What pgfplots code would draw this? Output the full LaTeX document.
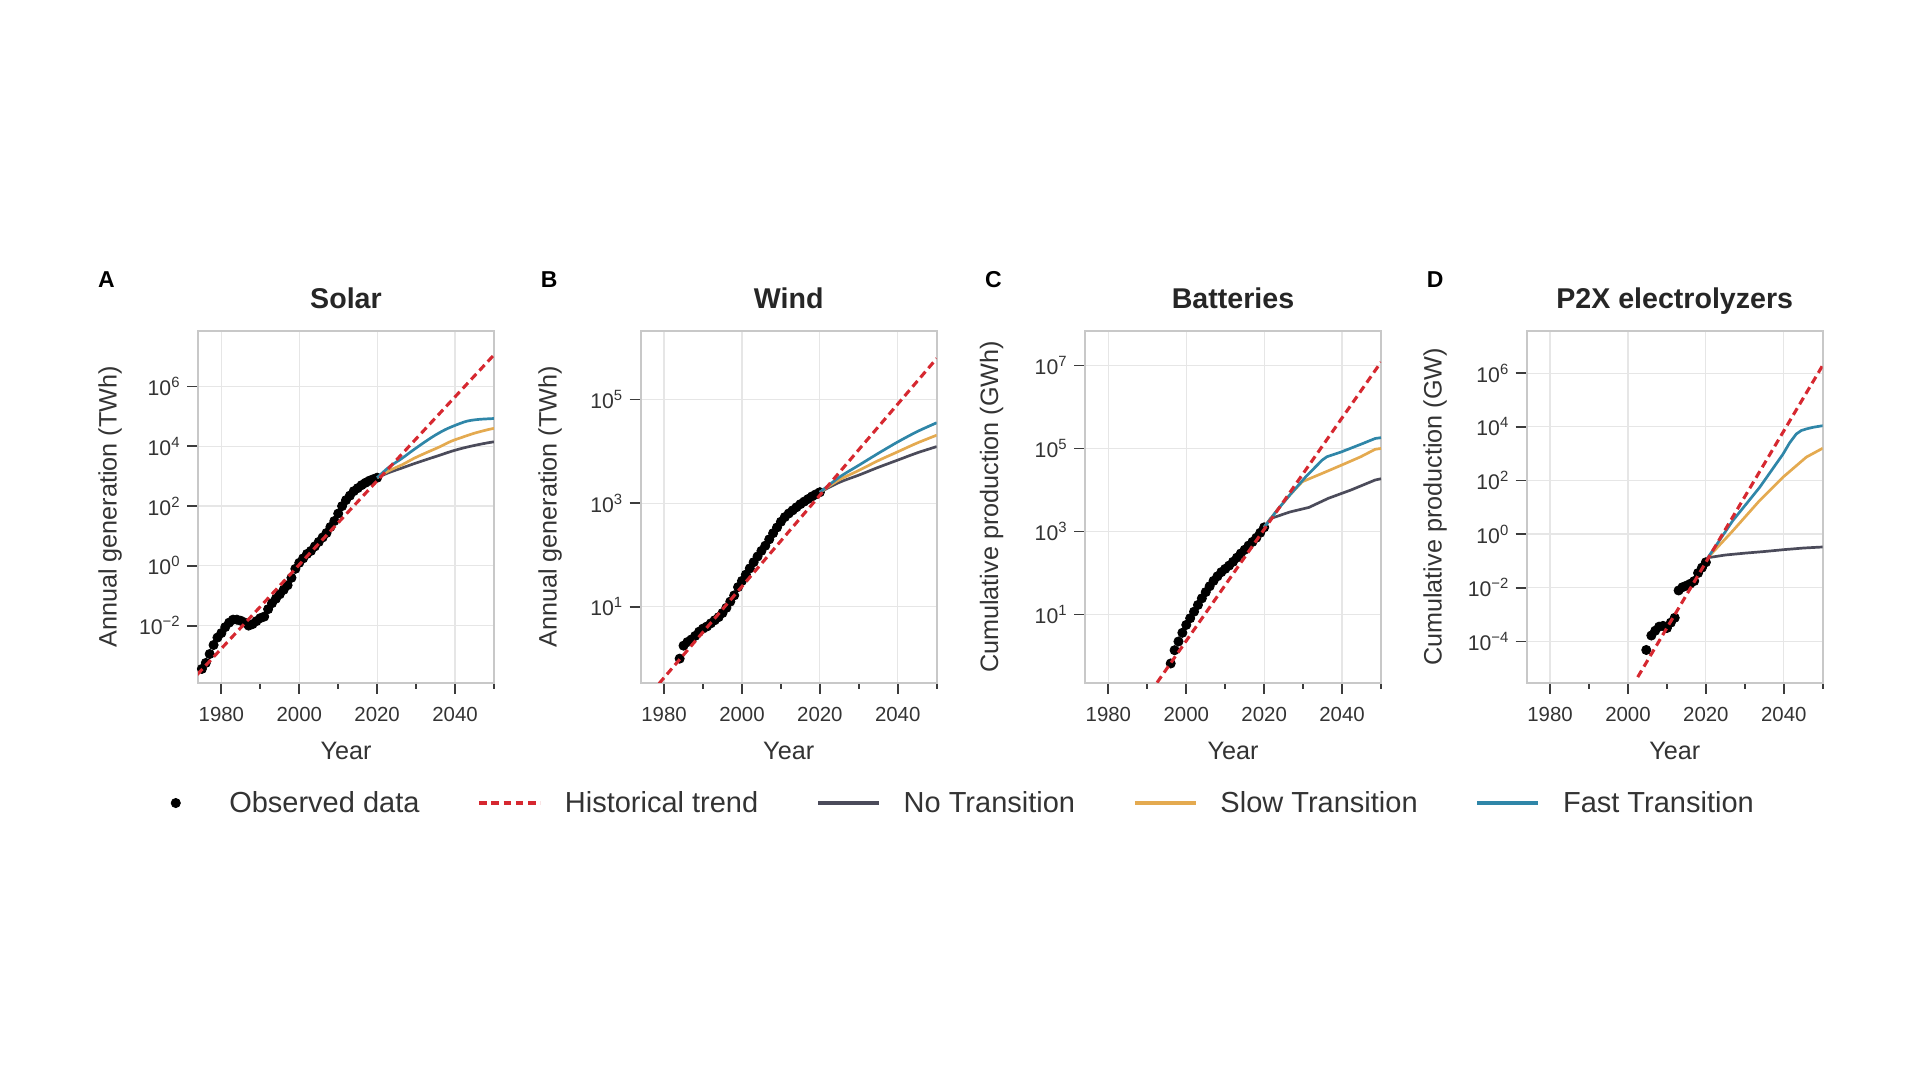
\documentclass[border=0pt]{standalone}
\usepackage{fontspec}
\setmainfont{Liberation Sans}
\usepackage{pgfplots}
\pgfplotsset{compat=1.18}
\definecolor{cRed}{RGB}{214,40,48}
\definecolor{cBlue}{RGB}{47,134,168}
\definecolor{cOrange}{RGB}{228,170,80}
\definecolor{cDark}{RGB}{75,75,90}
\definecolor{framegray}{RGB}{200,200,200}
\definecolor{gridgray}{RGB}{230,230,230}
\definecolor{tickgray}{RGB}{60,60,60}
\definecolor{labelgray}{RGB}{51,51,51}
\definecolor{titlegray}{RGB}{38,38,38}
\pgfplotsset{
  chartpanel/.style={
    scale only axis, width=148pt, height=176pt,
    xmin=1974, xmax=2050,
    xtick={1980,2000,2020,2040}, xticklabels={1980,2000,2020,2040},
    minor xtick={1990,2010,2030,2050},
    yminorticks=false,
    tick align=outside, xtick pos=bottom, ytick pos=left,
    major tick length=5.5pt, minor tick length=2.8pt,
    tick style={line width=0.9pt, draw=tickgray},
    axis line style={draw=framegray, line width=0.8pt},
    grid=major, major grid style={draw=gridgray, line width=0.6pt},
    xticklabel style={font=\fontsize{10.2}{12}\selectfont, text=labelgray},
    yticklabel style={font=\fontsize{10.6}{12}\selectfont, text=labelgray},
    xticklabel shift=3pt, yticklabel shift=-0.3pt,
    xlabel={Year},
    xlabel style={font=\fontsize{12.6}{15}\selectfont, text=labelgray, at={(axis description cs:0.5,0)}, anchor=base, yshift=-38.5pt},
    ylabel style={font=\fontsize{12.6}{15}\selectfont, text=labelgray, anchor=base},
    title style={font=\bfseries\fontsize{14.3}{17}\selectfont, text=titlegray, at={(axis description cs:0.5,1)}, anchor=base, yshift=5pt},
    clip mode=individual,
  },
}
\tikzset{
  obsmk/.style={only marks, mark=*, mark size=2.3pt, draw=black, fill=black},
  trendln/.style={cRed, line width=1.55pt, dash pattern=on 3.8pt off 2.3pt},
  noln/.style={cDark, line width=1.35pt},
  slowln/.style={cOrange, line width=1.35pt},
  fastln/.style={cBlue, line width=1.35pt},
  panelletter/.style={anchor=base west, xshift=-53.5pt, yshift=21.5pt, font=\bfseries\fontsize{11.5}{13}\selectfont, text=black},
}
\begin{document}
\begin{tikzpicture}
\path[use as bounding box] (0,0) rectangle (960pt,540pt);
% ---------------- A Solar
\begin{axis}[chartpanel, ymode=log, at={(99pt,198.5pt)}, anchor=south west,
  title={Solar}, ylabel={Annual generation (TWh)},
  ylabel style={at={(axis description cs:-0.2753,0.5)}},
  ymin=1.2e-4, ymax=7.24e7,
  ytick={1e-2,1,1e2,1e4,1e6},
  yticklabels={10\textsuperscript{−2},10\textsuperscript{0},10\textsuperscript{2},10\textsuperscript{4},10\textsuperscript{6}},
  legend columns=5,
  legend style={at={(axis description cs:2.539,-0.341)}, anchor=center, draw=none, fill=none,
    font=\fontsize{14.5}{17}\selectfont, text=labelgray,
    nodes={inner sep=0pt},
    /tikz/every odd column/.append style={column sep=11.5pt},
    /tikz/every even column/.append style={column sep=29pt}},
  legend image code/.code={\draw[#1] (0pt,0pt) -- (30.5pt,0pt);},
]
\addlegendimage{black, legend image code/.code={\path[draw=none] (0pt,0pt) -- (30.5pt,0pt); \fill[black] (15.25pt,0pt) circle (2.3pt);}}
\addlegendentry{Observed data}
\addlegendimage{cRed, line width=1.7pt, dash pattern=on 3.8pt off 2.3pt}
\addlegendentry{Historical trend}
\addlegendimage{cDark, line width=1.7pt}
\addlegendentry{No Transition}
\addlegendimage{cOrange, line width=1.7pt}
\addlegendentry{Slow Transition}
\addlegendimage{cBlue, line width=1.7pt}
\addlegendentry{Fast Transition}
\addplot[obsmk, forget plot] coordinates {
(1975,3.55e-4) (1976,5.62e-4) (1977,1.12e-3) (1978,2.24e-3) (1979,3.98e-3) (1980,5.62e-3)
(1981,8.91e-3) (1982,1.26e-2) (1983,1.58e-2) (1984,1.58e-2) (1985,1.45e-2) (1986,1.26e-2)
(1987,1.0e-2) (1988,1.12e-2) (1989,1.41e-2) (1990,1.78e-2) (1991,2.0e-2) (1992,3.55e-2)
(1993,5.62e-2) (1994,7.94e-2) (1995,0.112) (1996,0.158) (1997,0.224) (1998,0.398)
(1999,0.794) (2000,1.26) (2001,1.78) (2002,2.51) (2003,3.16) (2004,4.47) (2005,6.31)
(2006,8.91) (2007,12.6) (2008,20.0) (2009,31.6) (2010,56.2) (2011,100) (2012,158)
(2013,224) (2014,316) (2015,398) (2016,501) (2017,603) (2018,708) (2019,794) (2020,891)};
\addplot[noln, smooth, forget plot] coordinates {(2020,891) (2023,1318) (2026.5,1905) (2029.5,2630) (2032.5,3548) (2036,5012) (2039,6761) (2042,8710) (2045,10715) (2048.5,13183) (2050,14125)};
\addplot[slowln, smooth, forget plot] coordinates {(2020,891) (2023,1514) (2026.5,2455) (2029.5,3981) (2032.5,6026) (2036,9550) (2039,14791) (2042,20417) (2045,27542) (2048.5,36308) (2050,39811)};
\addplot[fastln, smooth, forget plot] coordinates {(2020,891) (2023,1995) (2026.5,4074) (2029,7079) (2032.5,14791) (2035,23988) (2037.5,36308) (2040,50119) (2043,69183) (2046,79433) (2050,85114)};
\addplot[trendln, forget plot] coordinates {(1973.8,2.29e-4) (2050,1.15e7)};
\node[panelletter] at (rel axis cs:0,1) {A};
\end{axis}
% ---------------- B Wind
\begin{axis}[chartpanel, ymode=log, at={(320.35pt,198.5pt)}, anchor=south west,
  title={Wind}, ylabel={Annual generation (TWh)},
  ylabel style={at={(axis description cs:-0.2838,0.5)}},
  ymin=0.339, ymax=2.09e6,
  ytick={10,1e3,1e5},
  yticklabels={10\textsuperscript{1},10\textsuperscript{3},10\textsuperscript{5}},
]
\addplot[obsmk] coordinates {
(1984,1.0) (1985,1.78) (1986,2.09) (1987,2.34) (1988,2.75) (1989,3.31) (1990,3.80)
(1991,4.17) (1992,4.79) (1993,5.50) (1994,6.31) (1995,7.59) (1996,9.55) (1997,12.6)
(1998,16.6) (1999,24.0) (2000,31.6) (2001,41.7) (2002,55.0) (2003,72.4) (2004,93.3)
(2005,120) (2006,151) (2007,200) (2008,263) (2009,339) (2010,437) (2011,537) (2012,631)
(2013,724) (2014,832) (2015,955) (2016,1072) (2017,1202) (2018,1349) (2019,1479) (2020,1622)};
\addplot[noln, smooth] coordinates {(2020,1622) (2025,2512) (2030,3467) (2035,4898) (2040,6761) (2045,9333) (2050,12303)};
\addplot[slowln, smooth] coordinates {(2020,1622) (2025,2818) (2030,4266) (2035,6607) (2040,9772) (2045,14454) (2050,20417)};
\addplot[fastln, smooth] coordinates {(2020,1622) (2025,3162) (2030,5370) (2035,9120) (2040,15136) (2045,23988) (2050,35481)};
\addplot[trendln] coordinates {(1978.7,0.33) (2050,6.17e5)};
\node[panelletter] at (rel axis cs:0,1) {B};
\end{axis}
% ---------------- C Batteries
\begin{axis}[chartpanel, ymode=log, at={(542.5pt,198.5pt)}, anchor=south west,
  title={Batteries}, ylabel={Cumulative production (GWh)},
  ylabel style={at={(axis description cs:-0.2939,0.5)}},
  ymin=0.224, ymax=6.76e7,
  ytick={10,1e3,1e5,1e7},
  yticklabels={10\textsuperscript{1},10\textsuperscript{3},10\textsuperscript{5},10\textsuperscript{7}},
]
\addplot[obsmk] coordinates {
(1996,0.661) (1997,1.38) (1998,2.24) (1999,3.63) (2000,5.62) (2001,8.13) (2002,11.7)
(2003,17.0) (2004,24.5) (2005,34.7) (2006,47.9) (2007,64.6) (2008,83.2) (2009,105)
(2010,126) (2011,151) (2012,186) (2013,234) (2014,295) (2015,363) (2016,457) (2017,562)
(2018,708) (2019,933) (2020,1259)};
\addplot[noln] coordinates {(2020,1259) (2021.6,2042) (2026.6,2951) (2031.5,3802) (2036.5,6310) (2042.3,10000) (2048.5,17378) (2050,18621)};
\addplot[slowln] coordinates {(2020,1259) (2023.3,3236) (2026.6,7586) (2029.8,15849) (2034.9,25119) (2039.9,39811) (2044.8,63096) (2048.5,95499) (2050,100000)};
\addplot[fastln] coordinates {(2020,1259) (2023.3,3236) (2026.6,7586) (2030.7,20893) (2034.9,52481) (2036.1,63096) (2039.9,83176) (2044.8,125893) (2048.5,173780) (2050,181970)};
\addplot[trendln] coordinates {(1992.5,0.229) (2050,1.2e7)};
\node[panelletter] at (rel axis cs:0,1) {C};
\end{axis}
% ---------------- D P2X
\begin{axis}[chartpanel, ymode=log, at={(763.35pt,198.5pt)}, anchor=south west,
  title={P2X electrolyzers}, ylabel={Cumulative production (GW)},
  ylabel style={at={(axis description cs:-0.2878,0.5)}},
  ymin=2.82e-6, ymax=3.72e7,
  ytick={1e-4,1e-2,1,1e2,1e4,1e6},
  yticklabels={10\textsuperscript{−4},10\textsuperscript{−2},10\textsuperscript{0},10\textsuperscript{2},10\textsuperscript{4},10\textsuperscript{6}},
]
\addplot[obsmk] coordinates {
(2004.7,4.79e-5) (2006,1.66e-4) (2007,2.51e-4) (2008,3.55e-4) (2009,3.80e-4) (2010,3.16e-4)
(2011,5.01e-4) (2012,7.59e-4) (2013,7.94e-3) (2014,1.05e-2) (2015,1.20e-2) (2016,1.41e-2)
(2017,1.78e-2) (2018,3.55e-2) (2019,5.62e-2) (2020,8.91e-2)};
\addplot[noln] coordinates {(2020.5,0.132) (2025,0.166) (2030,0.195) (2035,0.224) (2040,0.263) (2045,0.302) (2050,0.331)};
\addplot[slowln] coordinates {(2020.5,0.132) (2026.9,1.32) (2033.8,17.8) (2039.8,132) (2045.8,741) (2050,1585)};
\addplot[fastln] coordinates {(2020.5,0.132) (2026.9,3.16) (2033.8,55.0) (2039.8,955) (2041.5,2512) (2043.2,5370) (2044.5,7244) (2045.8,8318) (2047.5,9550) (2050,10965)};
\addplot[trendln] coordinates {(2002.5,4.68e-6) (2050,1.95e6)};
\node[panelletter] at (rel axis cs:0,1) {D};
\end{axis}
\end{tikzpicture}
\end{document}
